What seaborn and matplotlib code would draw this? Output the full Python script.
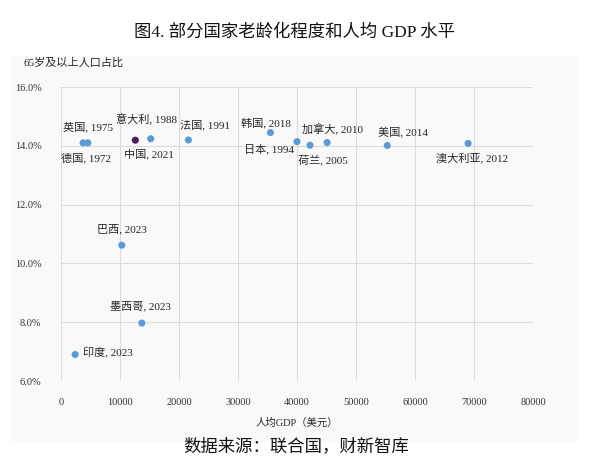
import matplotlib
matplotlib.use("Agg")
import matplotlib.pyplot as plt
import seaborn as sns
import pandas as pd
from matplotlib.patches import Rectangle
from matplotlib.ticker import FuncFormatter, MultipleLocator

countries = ["德国", "英国", "意大利", "中国", "法国", "韩国", "日本", "荷兰",
             "加拿大", "美国", "澳大利亚", "巴西", "墨西哥", "印度"]
years = [1972, 1975, 1988, 2021, 1991, 2018, 1994, 2005, 2010, 2014, 2012, 2023, 2023, 2023]
gdp_per_capita = [3750, 4550, 15200, 12600, 21600, 35500, 40000, 42200,
                  45100, 55300, 69000, 10300, 13700, 2400]
aged_share = [14.10, 14.10, 14.24, 14.19, 14.20, 14.45, 14.14, 14.02,
              14.11, 14.01, 14.08, 10.62, 7.97, 6.90]
group = ["其他" if c != "中国" else "中国" for c in countries]

# label offsets in points (dx, dy) and alignment
label_pos = {
    "德国": (2, -11, "center"),
    "英国": (0, 11.5, "center"),
    "意大利": (-3, 14, "center"),
    "中国": (10, -10, "center"),
    "法国": (12, 11, "center"),
    "韩国": (-3, 7, "center"),
    "日本": (-20, -5, "center"),
    "荷兰": (9, -11, "center"),
    "加拿大": (4, 10, "center"),
    "美国": (11, 9, "center"),
    "澳大利亚": (3, -10, "center"),
    "巴西": (0, 12, "center"),
    "墨西哥": (-1, 12, "center"),
    "印度": (6, 1, "left"),
}

df = pd.DataFrame({"country": countries, "year": years, "gdp": gdp_per_capita,
                   "share": aged_share, "group": group})

sns.set_theme(style="white")
plt.rcParams["font.family"] = ["Liberation Serif", "Noto Sans CJK SC"]
plt.rcParams["axes.unicode_minus"] = False

W, H = 595, 469
fig = plt.figure(figsize=(W / 100, H / 100), dpi=100)
fig.patch.set_facecolor("white")
bg = Rectangle((11 / W, 1 - 442 / H), (577 - 11) / W, (442 - 56) / H,
               transform=fig.transFigure, facecolor="#f9f9f9",
               edgecolor="none", zorder=-10)
fig.patches.append(bg)

ax = fig.add_axes([61 / W, 1 - 381 / H, (533 - 61) / W, (381 - 87) / H])
ax.set_zorder(1)
ax.set_facecolor("#f9f9f9")

sns.scatterplot(data=df, x="gdp", y="share", hue="group",
                palette={"其他": "#5b9bd5", "中国": "#4a1e5c"},
                s=26, linewidth=0, legend=False, ax=ax, zorder=3)

for c, y_, gx, sy in zip(countries, years, gdp_per_capita, aged_share):
    dx, dy, ha = label_pos[c]
    ax.annotate(f"{c}, {y_}", (gx, sy), xytext=(dx, dy), textcoords="offset points",
                ha=ha, va="center", fontsize=8, color="#262626")

ax.set_xlim(0, 80000)
ax.set_ylim(6, 16)
ax.xaxis.set_major_locator(MultipleLocator(10000))
ax.yaxis.set_major_locator(MultipleLocator(2))
ax.yaxis.set_major_formatter(FuncFormatter(lambda v, p: f"{v:.1f}%"))
ax.grid(True, color="#dcdcdc", linewidth=0.8)
ax.set_axisbelow(True)
for s in ax.spines.values():
    s.set_visible(False)
ax.tick_params(axis="both", length=0, labelsize=7.5, labelcolor="#333333")
ax.tick_params(axis="x", pad=12)
ax.tick_params(axis="y", pad=14)
ax.set_xlabel("人均GDP（美元）", fontsize=7.5, color="#262626", labelpad=8)
ax.set_ylabel("")

fig.text(24 / W, 1 - 63 / H, "65岁及以上人口占比", fontsize=8, color="#262626",
         ha="left", va="center")
fig.text(295 / W, 1 - 32 / H, "图4. 部分国家老龄化程度和人均 GDP 水平", fontsize=12.5,
         color="#111111", ha="center", va="center")
fig.text(296 / W, 1 - 447 / H, "数据来源：联合国，财新智库", fontsize=12.5,
         color="#111111", ha="center", va="center")

fig.savefig("out.png", dpi=100)
